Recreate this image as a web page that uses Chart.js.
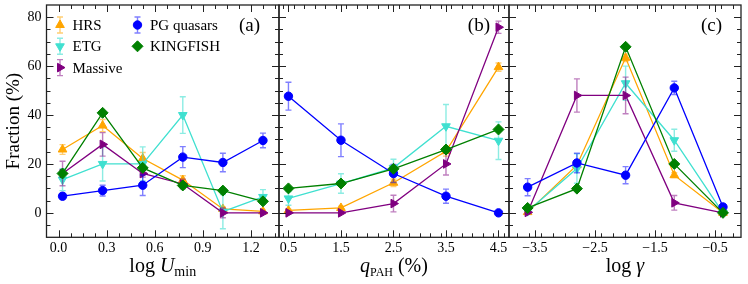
<!DOCTYPE html>
<html>
<head>
<meta charset="utf-8">
<script src="https://cdn.jsdelivr.net/npm/chart.js@4.4.1/dist/chart.umd.min.js"></script>
<style>
html, body { margin: 0; padding: 0; background: #fff; }
#wrap { position: relative; width: 748px; height: 284px; }
#wrap canvas { position: absolute; left: 0; top: 0; }
</style>
</head>
<body>
<div id="wrap">
    <canvas id="panelA" width="748" height="284"></canvas>
    <canvas id="panelB" width="748" height="284"></canvas>
    <canvas id="panelC" width="748" height="284"></canvas>
</div>
<script>
// series, in plotting order
const seriesNames = ['HRS', 'ETG', 'Massive', 'PG quasars', 'KINGFISH'];
const seriesColors = ['#FFA500', '#40E0D0', '#800080', '#0000FF', '#008000'];
const errColors = ['rgba(255,165,0,0.55)', 'rgba(64,224,208,0.6)', 'rgba(128,0,128,0.5)', 'rgba(0,0,255,0.5)', null];
const pointStyles = ['triangle', 'triangle', 'triangle', 'circle', 'rectRot'];
const pointRotations = [0, 180, 90, 0, 0];
const pointSizes = [5, 5, 5, 4.2, 5.5];

// (a) log Umin
const uminBins = [0.025, 0.275, 0.525, 0.775, 1.025, 1.275];
const uminFrac = [
    [25.9, 35.7, 22.2, 13.4, 1.6, 0.6],
    [13.6, 20.0, 20.0, 40.0, 0.5, 6.5],
    [16.1, 28.0, 16.1, 11.8, 0.0, 0.0],
    [6.8, 9.1, 11.3, 22.8, 20.6, 29.6],
    [16.1, 40.9, 18.4, 11.2, 9.1, 4.7]
];
const uminErr = [
    [2.0, 2.5, 2.5, 1.8, 0.8, 0.5],
    [4.5, 7.0, 7.0, 7.5, 7.0, 3.0],
    [5.0, 4.8, 1.5, 2.0, 2.0, 0.5],
    [1.2, 2.2, 4.2, 4.3, 3.8, 3.0],
    null
];

// (b) qPAH
const qpahBins = [0.5, 1.5, 2.5, 3.5, 4.5];
const qpahFrac = [
    [1.0, 2.0, 12.3, 25.2, 59.6],
    [5.9, 12.0, 18.4, 35.4, 29.5],
    [0.0, 0.0, 3.8, 20.0, 75.9],
    [47.7, 29.7, 16.1, 6.8, 0.0],
    [10.0, 12.0, 18.0, 25.9, 34.1]
];
const qpahErr = [
    [0.5, 0.7, 1.5, 2.0, 1.7],
    [2.8, 4.0, 3.5, 8.9, 7.7],
    [0.3, 0.3, 3.4, 4.5, 2.5],
    [5.7, 6.7, 3.7, 2.9, 0.3],
    null
];

// (c) log gamma
const gammaBins = [-3.62, -2.8, -1.99, -1.18, -0.37];
const gammaFrac = [
    [0.3, 19.5, 63.4, 15.4, 0.0],
    [0.7, 18.1, 53.0, 29.7, 0.0],
    [0.2, 48.0, 48.0, 4.1, 0.0],
    [10.5, 20.4, 15.4, 51.1, 2.4],
    [2.0, 9.9, 67.9, 20.0, 0.0]
];
const gammaErr = [
    [0.5, 1.2, 1.5, 1.0, 0.3],
    [1.0, 6.0, 7.0, 4.5, 1.0],
    [0.5, 6.8, 7.5, 3.0, 0.3],
    [3.5, 4.0, 3.5, 2.7, 1.0],
    null
];

// ticks
const fracTicks = [0, 20, 40, 60, 80];
const uminTicks = [0.0, 0.3, 0.6, 0.9, 1.2];
const qpahTicks = [0.5, 1.5, 2.5, 3.5, 4.5];
const gammaTicks = [-3.5, -2.5, -1.5, -0.5];

const SERIF = "'Liberation Serif', 'DejaVu Serif', serif";
const FRAC_MIN = -10, FRAC_MAX = 85;

/**
 * Draw vertical error bars for one dataset, under its markers
 */
const errorBarPlugin = {
    id: 'errorBars',
    beforeDatasetDraw(chart, args) {
        const ds = chart.data.datasets[args.index];
        if (!ds.errors) return;
        const { ctx } = chart;
        const xs = chart.scales.x, ys = chart.scales.y;
        ctx.save();
        ctx.strokeStyle = ds.errColor;
        ctx.lineWidth = 1.4;
        ds.data.forEach((p, i) => {
            const e = ds.errors[i];
            const px = xs.getPixelForValue(p.x);
            const y1 = ys.getPixelForValue(p.y - e);
            const y2 = ys.getPixelForValue(p.y + e);
            ctx.beginPath();
            ctx.moveTo(px, y1); ctx.lineTo(px, y2);
            ctx.moveTo(px - 3, y1); ctx.lineTo(px + 3, y1);
            ctx.moveTo(px - 3, y2); ctx.lineTo(px + 3, y2);
            ctx.stroke();
        });
        ctx.restore();
    }
};

function minorValues(min, max, step) {
    const out = [];
    for (let k = Math.ceil(min / step - 1e-9); k * step <= max + 1e-9; k++) out.push(k * step);
    return out;
}

/**
 * Frame with inward ticks on all four sides, plus axis title and panel tag
 */
const framePlugin = {
    id: 'frame',
    afterDraw(chart, args, opts) {
        const { ctx, chartArea } = chart;
        const { left, right, top, bottom } = chartArea;
        const xs = chart.scales.x, ys = chart.scales.y;
        ctx.save();
        ctx.strokeStyle = '#222';
        ctx.lineWidth = 1;
        ctx.beginPath();
        const tick = (vals, len) => {
            vals.forEach(v => {
                const px = Math.round(xs.getPixelForValue(v)) + 0.5;
                if (px <= left + 1 || px >= right - 1) return;
                ctx.moveTo(px, bottom); ctx.lineTo(px, bottom - len);
                ctx.moveTo(px, top); ctx.lineTo(px, top + len);
            });
        };
        const ytick = (vals, len) => {
            vals.forEach(v => {
                const py = Math.round(ys.getPixelForValue(v)) + 0.5;
                if (py <= top + 1 || py >= bottom - 1) return;
                ctx.moveTo(left, py); ctx.lineTo(left + len, py);
                ctx.moveTo(right, py); ctx.lineTo(right - len, py);
            });
        };
        tick(minorValues(xs.min, xs.max, opts.minorStep), 4);
        tick(opts.majorTicks, 7);
        ytick(minorValues(FRAC_MIN, FRAC_MAX, 5), 4);
        ytick(fracTicks, 7);
        ctx.stroke();
        ctx.lineWidth = 1.3;
        ctx.strokeRect(left, top, right - left, bottom - top);

        // x axis title made of mixed-style pieces
        let total = 0;
        opts.title.forEach(p => { ctx.font = p.font; p.w = ctx.measureText(p.text).width; total += p.w; });
        let x = (left + right) / 2 - total / 2;
        ctx.fillStyle = '#000';
        ctx.textAlign = 'left';
        ctx.textBaseline = 'alphabetic';
        opts.title.forEach(p => {
            ctx.font = p.font;
            ctx.fillText(p.text, x, 272 + (p.dy || 0));
            x += p.w;
        });

        ctx.font = '19px ' + SERIF;
        ctx.textAlign = 'right';
        ctx.textBaseline = 'middle';
        ctx.fillText(opts.tag, right - 19, 26);
        ctx.restore();
    }
};

/**
 * Legend in panel (a): two columns, markers with error bars
 */
const legendPlugin = {
    id: 'legendBox',
    afterDraw(chart) {
        const { ctx } = chart;
        const cols = [[0, 1, 2], [3, 4]];
        const colX = [60, 137.5];
        ctx.save();
        cols.forEach((col, c) => {
            col.forEach((s, r) => {
                const x = colX[c], y = 25 + r * 21.3;
                if (errColors[s]) {
                    ctx.strokeStyle = errColors[s];
                    ctx.lineWidth = 1.4;
                    ctx.beginPath();
                    ctx.moveTo(x, y - 8); ctx.lineTo(x, y + 8);
                    ctx.moveTo(x - 3, y - 8); ctx.lineTo(x + 3, y - 8);
                    ctx.moveTo(x - 3, y + 8); ctx.lineTo(x + 3, y + 8);
                    ctx.stroke();
                }
                ctx.fillStyle = seriesColors[s];
                ctx.strokeStyle = seriesColors[s];
                ctx.lineWidth = 1;
                Chart.helpers.drawPoint(ctx, {
                    pointStyle: pointStyles[s],
                    radius: pointSizes[s],
                    rotation: pointRotations[s],
                    borderWidth: 1
                }, x, y);
                ctx.fillStyle = '#000';
                ctx.font = '15px ' + SERIF;
                ctx.textAlign = 'left';
                ctx.textBaseline = 'middle';
                ctx.fillText(seriesNames[s], x + 12.5, y + 1);
            });
        });
        ctx.restore();
    }
};

function buildDatasets(bins, frac, errs) {
    return seriesNames.map((name, s) => ({
        label: name,
        data: bins.map((b, i) => ({ x: b, y: frac[s][i] })),
        errors: errs[s],
        errColor: errColors[s],
        borderColor: seriesColors[s],
        backgroundColor: seriesColors[s],
        borderWidth: 1.3,
        pointStyle: pointStyles[s],
        pointRotation: pointRotations[s],
        pointRadius: pointSizes[s],
        pointBorderWidth: 1,
        order: seriesNames.length - s,
        tension: 0
    }));
}

function zeroPadding(scale) {
    scale.paddingLeft = 0; scale.paddingRight = 0;
    scale.paddingTop = 0; scale.paddingBottom = 0;
}

/**
 * One panel on its own full-size canvas, placed with layout padding
 */
function initPanel(canvasId, cfg) {
    const ctx = document.getElementById(canvasId);
    if (!ctx) return;
    const showY = cfg.showY;
    new Chart(ctx, {
        type: 'line',
        data: { datasets: buildDatasets(cfg.bins, cfg.frac, cfg.errs) },
        options: {
            responsive: false,
            animation: false,
            events: [],
            layout: {
                autoPadding: false,
                padding: { left: cfg.padLeft, right: cfg.padRight, top: 5, bottom: 0 }
            },
            plugins: {
                legend: { display: false },
                tooltip: { enabled: false },
                frame: { majorTicks: cfg.ticks, minorStep: cfg.minorStep, title: cfg.title, tag: cfg.tag }
            },
            scales: {
                x: {
                    type: 'linear',
                    min: cfg.min,
                    max: cfg.max,
                    grid: { display: false, drawTicks: false },
                    border: { display: false },
                    afterBuildTicks: s => { s.ticks = cfg.ticks.map(v => ({ value: v })); },
                    afterFit: s => { s.height = 46.7; zeroPadding(s); },
                    ticks: {
                        padding: 3,
                        color: '#000',
                        font: { family: SERIF, size: 14 },
                        maxRotation: 0,
                        callback: v => cfg.fmt(v)
                    }
                },
                y: {
                    display: showY,
                    min: FRAC_MIN,
                    max: FRAC_MAX,
                    grid: { display: false, drawTicks: false },
                    border: { display: false },
                    afterBuildTicks: s => { s.ticks = fracTicks.map(v => ({ value: v })); },
                    afterFit: s => { s.width = showY ? 46.5 : 0; zeroPadding(s); },
                    ticks: {
                        display: showY,
                        padding: 5,
                        color: '#000',
                        font: { family: SERIF, size: 14 }
                    },
                    title: {
                        display: showY,
                        text: 'Fraction (%)',
                        color: '#000',
                        font: { family: SERIF, size: 19 },
                        padding: { top: 3, bottom: 0 }
                    }
                }
            }
        },
        plugins: cfg.legend ? [errorBarPlugin, framePlugin, legendPlugin] : [errorBarPlugin, framePlugin]
    });
}

const minus = v => (v < 0 ? '\u2212' : '') + Math.abs(v).toFixed(1);

initPanel('panelA', {
    bins: uminBins, frac: uminFrac, errs: uminErr,
    min: -0.075, max: 1.375, ticks: uminTicks, minorStep: 0.075,
    padLeft: 0, padRight: 469, showY: true, legend: true, tag: '(a)',
    fmt: v => v.toFixed(1),
    title: [
        { text: 'log ', font: '20px ' + SERIF },
        { text: 'U', font: 'italic 20px ' + SERIF },
        { text: 'min', font: '14px ' + SERIF, dy: 4 }
    ]
});

initPanel('panelB', {
    bins: qpahBins, frac: qpahFrac, errs: qpahErr,
    min: 0.32, max: 4.7, ticks: qpahTicks, minorStep: 0.2,
    padLeft: 279, padRight: 239, showY: false, legend: false, tag: '(b)',
    fmt: v => v.toFixed(1),
    title: [
        { text: 'q', font: 'italic 20px ' + SERIF },
        { text: 'PAH', font: '12px ' + SERIF, dy: 4 },
        { text: ' (%)', font: '20px ' + SERIF }
    ]
});

initPanel('panelC', {
    bins: gammaBins, frac: gammaFrac, errs: gammaErr,
    min: -3.93, max: -0.07, ticks: gammaTicks, minorStep: 0.2,
    padLeft: 509, padRight: 7, showY: false, legend: false, tag: '(c)',
    fmt: minus,
    title: [
        { text: 'log ', font: '20px ' + SERIF },
        { text: '\u03B3', font: 'italic 20px ' + SERIF }
    ]
});
</script>
</body>
</html>
